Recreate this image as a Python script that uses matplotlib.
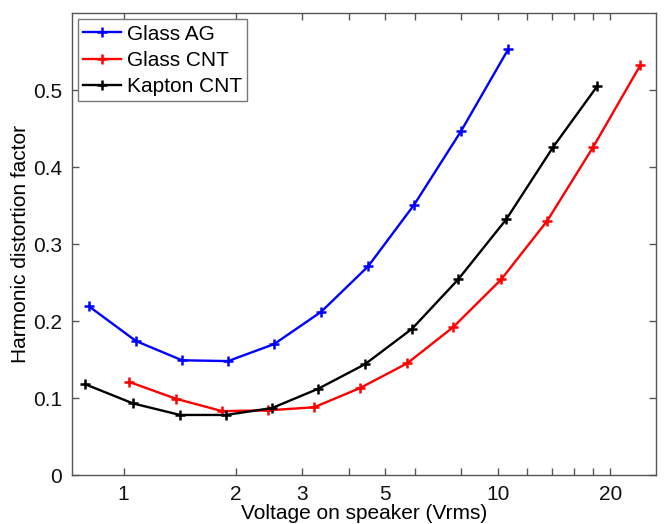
import matplotlib
matplotlib.use("Agg")
import matplotlib.pyplot as plt
import numpy as np

plt.rcParams["font.family"] = ["Liberation Sans", "DejaVu Sans"]

# values
glass_ag_v = [0.809, 1.080, 1.434, 1.903, 2.526, 3.375, 4.505, 5.980, 7.99, 10.67]
glass_ag_hdf = [0.219, 0.174, 0.149, 0.148, 0.170, 0.212, 0.271, 0.351, 0.447, 0.553]

glass_cnt_v = [1.034, 1.382, 1.834, 2.434, 3.232, 4.289, 5.728, 7.603, 10.22, 13.56, 18.00, 24.04]
glass_cnt_hdf = [0.121, 0.099, 0.083, 0.084, 0.088, 0.113, 0.145, 0.192, 0.254, 0.330, 0.426, 0.532]

kapton_cnt_v = [0.789, 1.060, 1.416, 1.880, 2.495, 3.313, 4.423, 5.906, 7.841, 10.54, 14.07, 18.45]
kapton_cnt_hdf = [0.118, 0.093, 0.078, 0.078, 0.087, 0.112, 0.144, 0.190, 0.254, 0.332, 0.426, 0.505]

x_ticks = [1, 2, 3, 4, 5, 6, 8, 10, 12, 14, 16, 18, 20]
x_labels = ["1", "2", "3", "", "5", "", "", "10", "", "", "", "", "20"]
y_ticks = [0, 0.1, 0.2, 0.3, 0.4, 0.5]
y_labels = ["0", "0.1", "0.2", "0.3", "0.4", "0.5"]

fig = plt.figure(figsize=(6.66, 5.24), dpi=100)
ax = fig.add_axes([0.108, 0.0935, 0.877, 0.8815])

series = [
    (glass_ag_v, glass_ag_hdf, "#0000ff", "Glass AG"),
    (glass_cnt_v, glass_cnt_hdf, "#ff0000", "Glass CNT"),
    (kapton_cnt_v, kapton_cnt_hdf, "#000000", "Kapton CNT"),
]
for xs, ys, color, label in series:
    ax.plot(xs, ys, color=color, lw=1.7, marker="+", ms=7, mew=1.8, label=label)

ax.set_xscale("log")
ax.set_xlim(0.728, 26.5)
ax.set_ylim(0, 0.6)
ax.set_xticks(x_ticks)
ax.set_xticklabels(x_labels)
ax.minorticks_off()
ax.set_yticks(y_ticks)
ax.set_yticklabels(y_labels)

axis_color = "#555555"
for side in ax.spines.values():
    side.set_color(axis_color)
    side.set_linewidth(1.0)
ax.tick_params(direction="in", length=5, width=1, colors=axis_color,
               labelcolor="#111111", labelsize=15, top=True, right=True, pad=7)

ax.set_xlabel("Voltage on speaker (Vrms)", fontsize=15, labelpad=0)
ax.set_ylabel("Harmonic distortion factor", fontsize=15, labelpad=2)

leg = ax.legend(loc="upper left", fontsize=15, fancybox=False, framealpha=1,
                handlelength=1.8, handletextpad=0.3, borderaxespad=0.3,
                labelspacing=0.35, borderpad=0.25)
leg.get_frame().set_edgecolor("#777777")
leg.get_frame().set_linewidth(1.0)

fig.savefig("out.png", dpi=100)
